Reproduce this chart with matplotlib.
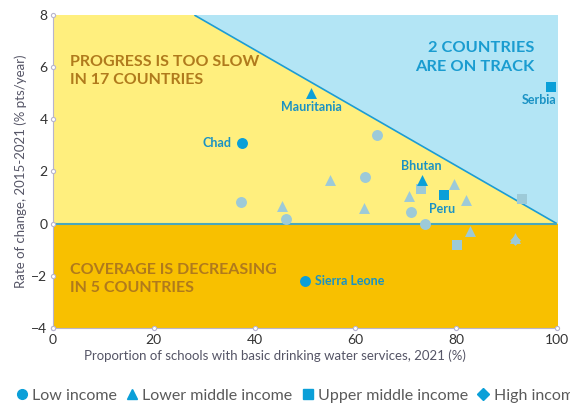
import matplotlib.pyplot as plt
import numpy as np
from matplotlib.lines import Line2D

plt.rcParams['font.family'] = ['Lato', 'DejaVu Sans']

# highlighted countries
hi_names = ["Mauritania", "Chad", "Bhutan", "Peru", "Serbia", "Sierra Leone"]
hi_x = [51.2, 37.5, 73.3, 77.5, 98.8, 50.0]
hi_y = [5.02, 3.1, 1.69, 1.08, 5.25, -2.19]
hi_marker = ["^", "o", "^", "s", "s", "o"]

# other countries (faded)
oth_x = [55.0, 62.0, 37.4, 45.4, 46.3, 61.8, 64.3, 73.1, 79.5, 70.7, 82.0,
         93.1, 71.0, 73.9, 82.7, 80.1, 91.7, 91.7]
oth_y = [1.69, 1.80, 0.82, 0.66, 0.19, 0.60, 3.39, 1.33, 1.53, 1.05, 0.91,
         0.95, 0.46, 0.00, -0.29, -0.80, -0.62, -0.55]
oth_marker = ["^", "o", "o", "^", "o", "^", "o", "s", "^", "^", "^",
              "s", "o", "o", "^", "s", "D", "^"]

legend_labels = ["Low income", "Lower middle income", "Upper middle income", "High income"]
legend_markers = ["o", "^", "s", "D"]

BLUE = "#0a9fd8"
GREY = "#9dcad8"
GOLD = "#b07a1c"
SIZES = {"o": 62, "^": 62, "s": 52, "D": 30}

fig = plt.figure(figsize=(5.7, 4.03), dpi=100)
ax = fig.add_axes([0.093, 0.186, 0.884, 0.777])

xs = np.linspace(0, 100, 501)
target = np.clip((100 - xs) / 9, 0, 8)
ax.fill_between(xs, 0, 8, color="#b3e5f5", zorder=0)
ax.fill_between(xs, 0, target, color="#ffef7e", zorder=0.5)
ax.fill_between(xs, -4, 0, color="#f8c000", zorder=0.5)
ax.plot(xs[target < 8], target[target < 8], color="#1a9cd8", lw=1.2, zorder=1)
ax.axhline(0, color="#4aa8bc", lw=1.5, zorder=1)

for x, y, m in zip(oth_x, oth_y, oth_marker):
    ax.scatter(x, y, marker=m, s=SIZES[m], color=GREY, zorder=2, linewidths=0)
for x, y, m in zip(hi_x, hi_y, hi_marker):
    ax.scatter(x, y, marker=m, s=SIZES[m], color=BLUE, zorder=3, linewidths=0)

lab = dict(color="#1a92c4", fontsize=9, fontweight="bold", zorder=4)
ax.text(hi_x[0], hi_y[0] - 0.3, hi_names[0], ha="center", va="top", **lab)
ax.text(hi_x[1] - 2, hi_y[1], hi_names[1], ha="right", va="center", **lab)
ax.text(hi_x[2] - 0.3, hi_y[2] + 0.3, hi_names[2], ha="center", va="bottom", **lab)
ax.text(hi_x[3] - 0.3, hi_y[3] - 0.28, hi_names[3], ha="center", va="top", **lab)
ax.text(100, hi_y[4] - 0.3, hi_names[4], ha="right", va="top", **lab)
ax.text(hi_x[5] + 2, hi_y[5], hi_names[5], ha="left", va="center", **lab)

ax.text(3.4, 6.45, "PROGRESS IS TOO SLOW\nIN 17 COUNTRIES", color=GOLD, fontsize=11.5,
        fontweight="bold", ha="left", va="top", linespacing=1.35, zorder=4)
ax.text(3.4, -1.5, "COVERAGE IS DECREASING\nIN 5 COUNTRIES", color=GOLD, fontsize=11.5,
        fontweight="bold", ha="left", va="top", linespacing=1.35, zorder=4)
ax.text(95.5, 7.0, "2 COUNTRIES\nARE ON TRACK", color="#1a9cd0", fontsize=11.8,
        fontweight="bold", ha="right", va="top", linespacing=1.45, zorder=4)

ax.set_xlim(0, 100)
ax.set_ylim(-4, 8)
ax.set_xticks([0, 20, 40, 60, 80, 100])
ax.set_yticks([-4, -2, 0, 2, 4, 6, 8])
ax.tick_params(length=0, labelsize=10, colors="#333333", pad=4)
for s in ax.spines.values():
    s.set_visible(False)
ax.spines["left"].set_visible(True)
ax.spines["bottom"].set_visible(True)
ax.spines["left"].set_color("#b8b4cc")
ax.spines["bottom"].set_color("#b8b4cc")
for t in ax.get_xticks():
    ax.plot(t, -4, marker="o", ms=3, mfc="white", mec="#b8b4cc", mew=0.8, clip_on=False, zorder=5)
for t in ax.get_yticks():
    ax.plot(0, t, marker="o", ms=3, mfc="white", mec="#b8b4cc", mew=0.8, clip_on=False, zorder=5)

ax.set_ylabel("Rate of change, 2015-2021 (% pts/year)", fontsize=9.5, color="#555566", labelpad=3)
fig.text(0.483, 0.118, "Proportion of schools with basic drinking water services, 2021 (%)",
         fontsize=9.5, color="#555566", ha="center", va="center")

handles = [Line2D([], [], marker=m, ls="", color=BLUE, ms=7 if m != "D" else 6) for m in legend_markers]
fig.legend(handles, legend_labels, loc="center left", bbox_to_anchor=(0.003, 0.018), ncol=4,
           frameon=False, fontsize=11.5, handlelength=0.7, handletextpad=0.3, columnspacing=0.6,
           labelcolor="#5a5a5a")

fig.savefig("out.png", dpi=100)
